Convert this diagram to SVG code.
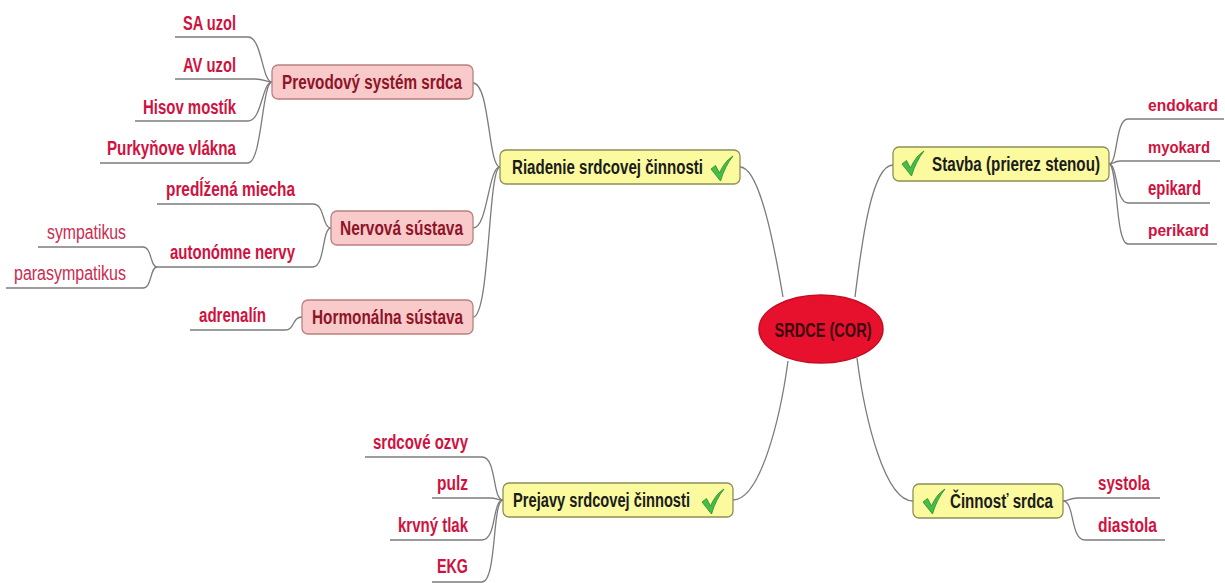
<svg xmlns="http://www.w3.org/2000/svg" width="1225" height="583" viewBox="0 0 1225 583">
<style>
text{font-family:"Liberation Sans Narrow","Liberation Sans",Arial,sans-serif;font-size:20px}
.leaf{fill:#cf1240;font-weight:bold}
.leafn{fill:#cc2a50;font-weight:normal}
.edge{font-size:17px}
.pink rect{fill:#f9caca;stroke:#b88080;stroke-width:1.3}
.pink text{fill:#8e1428;font-weight:bold}
.yel rect{fill:#fbfa9e;stroke:#8f8f58;stroke-width:1.3}
.yel text{fill:#1c1c1c;font-weight:bold}
.con path{fill:none;stroke:#7c7c7c;stroke-width:1.3}
</style>
<defs>
<g id="chk">
<path d="M0,13 L4.5,9.5 L8.5,17 C12,9 16,4 22,0 C16.5,7 12.5,15 9.5,25 Z" fill="#46bd46" stroke="#2b8a2b" stroke-width="0.8"/>
</g>
</defs>
<rect width="1225" height="583" fill="#ffffff"/>

<g id="connectors" class="con">
<path d="M740 167 C760 167,775 250,783 297"/>
<path d="M855 297 C862 240,872 165,893 165"/>
<path d="M788 361 C780 420,760 500,733 500"/>
<path d="M857 358 C865 420,885 501,913 501"/>
<path d="M473 83 C490 83,488 167,500 167"/>
<path d="M473 228 C488 228,488 167,500 167"/>
<path d="M473 317 C490 317,488 167,500 167"/>
<path d="M175 37 H248 C262 37,262 82,272 82"/>
<path d="M175 79 H255 C265 79,265 82,272 82"/>
<path d="M135 121 H248 C262 121,262 82,272 82"/>
<path d="M100 163 H248 C262 163,262 82,272 82"/>
<path d="M157 204 H313 C325 204,322 228,331 228"/>
<path d="M157 267 H313 C325 267,322 228,331 228"/>
<path d="M38 247 H143 C152 247,150 267,157 267"/>
<path d="M6 288 H143 C152 288,150 267,157 267"/>
<path d="M190 330 H285 C295 330,292 317,302 317"/>
<path d="M365 457 H482 C497 457,492 500,503 500"/>
<path d="M432 498 H490 C497 498,497 500,503 500"/>
<path d="M390 540 H482 C497 540,492 500,503 500"/>
<path d="M432 582 H482 C497 582,492 500,503 500"/>
<path d="M1109 164 C1118 164,1115 119,1128 119 H1224"/>
<path d="M1109 164 C1114 164,1114 161,1120 161 H1220"/>
<path d="M1109 164 C1118 164,1115 203,1128 203 H1210"/>
<path d="M1109 164 C1118 164,1115 244,1128 244 H1217"/>
<path d="M1063 501 C1070 501,1068 498,1078 498 H1160"/>
<path d="M1063 501 C1075 501,1070 540,1085 540 H1165"/>
</g>

<g id="root">
<ellipse cx="821" cy="329" rx="62" ry="34" fill="#e8112d" stroke="#c40d24" stroke-width="1.5"/>
<text x="823" y="337" text-anchor="middle" textLength="97" lengthAdjust="spacingAndGlyphs" fill="#3a0810" font-weight="bold">SRDCE (COR)</text>
</g>

<g id="riadenie" class="yel">
<rect x="500" y="150" width="240" height="34" rx="6"/>
<text x="512" y="174" textLength="191" lengthAdjust="spacingAndGlyphs">Riadenie srdcovej činnosti</text>
<use href="#chk" x="711" y="156"/>
</g>
<g id="stavba" class="yel">
<rect x="893" y="147" width="216" height="34" rx="6"/>
<use href="#chk" x="902" y="151"/>
<text x="932" y="171" textLength="168" lengthAdjust="spacingAndGlyphs">Stavba (prierez stenou)</text>
</g>
<g id="prejavy" class="yel">
<rect x="503" y="483" width="230" height="34" rx="6"/>
<text x="513" y="507" textLength="177" lengthAdjust="spacingAndGlyphs">Prejavy srdcovej činnosti</text>
<use href="#chk" x="702" y="489"/>
</g>
<g id="cinnost" class="yel">
<rect x="913" y="484" width="150" height="34" rx="6"/>
<use href="#chk" x="923" y="489"/>
<text x="950" y="508" textLength="103" lengthAdjust="spacingAndGlyphs">Činnosť srdca</text>
</g>

<g id="prevodovy" class="pink">
<rect x="272" y="65" width="201" height="34" rx="6"/>
<text x="282" y="89" textLength="180" lengthAdjust="spacingAndGlyphs">Prevodový systém srdca</text>
</g>
<g id="nervova" class="pink">
<rect x="331" y="211" width="142" height="34" rx="6"/>
<text x="340" y="235" textLength="123" lengthAdjust="spacingAndGlyphs">Nervová sústava</text>
</g>
<g id="hormonalna" class="pink">
<rect x="302" y="300" width="171" height="34" rx="6"/>
<text x="312" y="324" textLength="151" lengthAdjust="spacingAndGlyphs">Hormonálna sústava</text>
</g>

<g id="sa-uzol"><text class="leaf" x="236" y="30" text-anchor="end" textLength="53" lengthAdjust="spacingAndGlyphs">SA uzol</text></g>
<g id="av-uzol"><text class="leaf" x="236" y="72" text-anchor="end" textLength="53" lengthAdjust="spacingAndGlyphs">AV uzol</text></g>
<g id="hisov"><text class="leaf" x="236" y="114" text-anchor="end" textLength="93" lengthAdjust="spacingAndGlyphs">Hisov mostík</text></g>
<g id="purkyne"><text class="leaf" x="236" y="155" text-anchor="end" textLength="129" lengthAdjust="spacingAndGlyphs">Purkyňove vlákna</text></g>
<g id="miecha"><text class="leaf" x="295" y="196" text-anchor="end" textLength="129" lengthAdjust="spacingAndGlyphs">predĺžená miecha</text></g>
<g id="autonomne"><text class="leaf" x="295" y="259" text-anchor="end" textLength="125" lengthAdjust="spacingAndGlyphs">autonómne nervy</text></g>
<g id="sympatikus"><text class="leafn" x="126" y="239" text-anchor="end" textLength="79" lengthAdjust="spacingAndGlyphs">sympatikus</text></g>
<g id="parasympatikus"><text class="leafn" x="126" y="280" text-anchor="end" textLength="112" lengthAdjust="spacingAndGlyphs">parasympatikus</text></g>
<g id="adrenalin"><text class="leaf" x="266" y="322" text-anchor="end" textLength="67" lengthAdjust="spacingAndGlyphs">adrenalín</text></g>
<g id="ozvy"><text class="leaf" x="468" y="449" text-anchor="end" textLength="95" lengthAdjust="spacingAndGlyphs">srdcové ozvy</text></g>
<g id="pulz"><text class="leaf" x="468" y="490" text-anchor="end" textLength="31" lengthAdjust="spacingAndGlyphs">pulz</text></g>
<g id="tlak"><text class="leaf" x="468" y="532" text-anchor="end" textLength="70" lengthAdjust="spacingAndGlyphs">krvný tlak</text></g>
<g id="ekg"><text class="leaf" x="468" y="573" text-anchor="end" textLength="31" lengthAdjust="spacingAndGlyphs">EKG</text></g>
<g id="endokard"><text class="leaf edge" x="1148" y="111" textLength="70" lengthAdjust="spacingAndGlyphs">endokard</text></g>
<g id="myokard"><text class="leaf edge" x="1148" y="153" textLength="62" lengthAdjust="spacingAndGlyphs">myokard</text></g>
<g id="epikard"><text class="leaf" x="1148" y="195" textLength="53" lengthAdjust="spacingAndGlyphs">epikard</text></g>
<g id="perikard"><text class="leaf edge" x="1148" y="236" textLength="61" lengthAdjust="spacingAndGlyphs">perikard</text></g>
<g id="systola"><text class="leaf" x="1098" y="490" textLength="52" lengthAdjust="spacingAndGlyphs">systola</text></g>
<g id="diastola"><text class="leaf" x="1098" y="532" textLength="59" lengthAdjust="spacingAndGlyphs">diastola</text></g>
</svg>
